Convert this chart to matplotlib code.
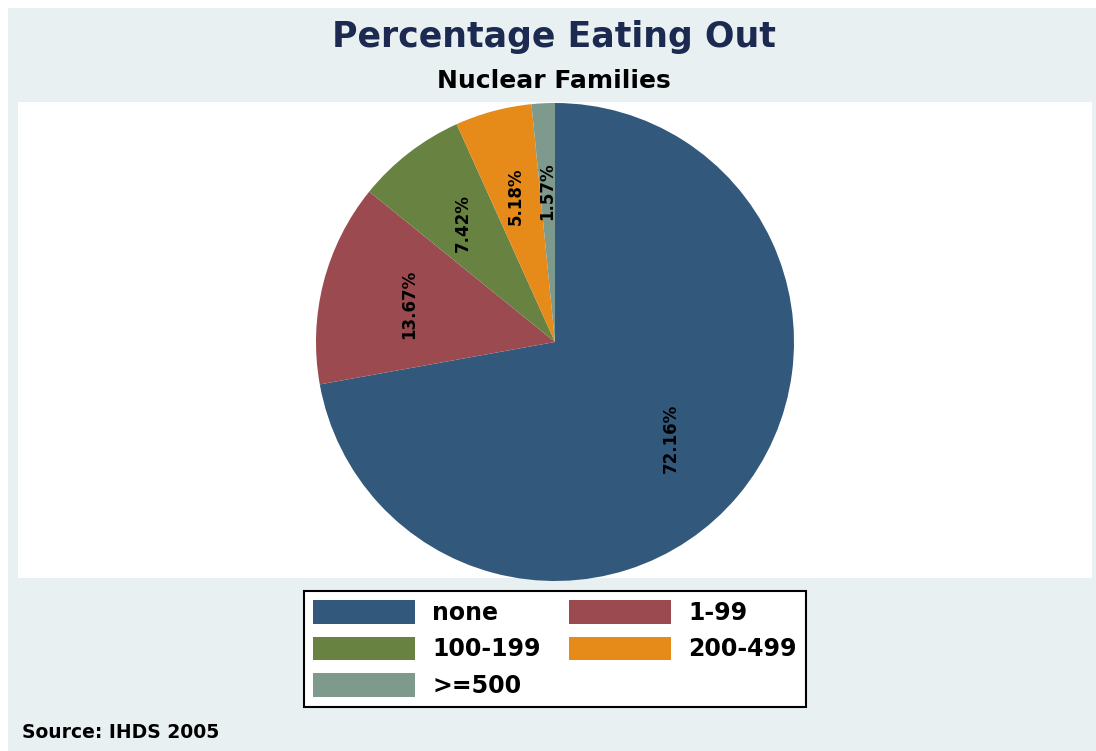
import matplotlib.pyplot as plt
from matplotlib.patches import Rectangle

# data
categories = ["none", "1-99", "100-199", "200-499", ">=500"]
shares = [72.16, 13.67, 7.42, 5.18, 1.57]
colors = ["#32587C", "#9B4A4F", "#678241", "#E68A1A", "#7E9A8C"]

W, H = 1096, 751
fig = plt.figure(figsize=(W / 100, H / 100), dpi=100)
fig.patch.set_facecolor("white")

# light outer background and white plot region (pixel boxes converted to figure coords)
def px_box(x0, y0, x1, y1):
    return (x0 / W, 1 - y1 / H), (x1 - x0) / W, (y1 - y0) / H

(bx, by), bw, bh = px_box(8, 8, W, H)
fig.patches.append(Rectangle((bx, by), bw, bh, transform=fig.transFigure,
                             facecolor="#E8F0F2", edgecolor="none", zorder=-2))
(px, py), pw, ph = px_box(18, 102, 1092, 578)
fig.patches.append(Rectangle((px, py), pw, ph, transform=fig.transFigure,
                             facecolor="white", edgecolor="none", zorder=-1))

# pie axes, square, centred on the pie
cx, cy, r = 555, 342, 239
ax = fig.add_axes([(cx - r) / W, 1 - (cy + r) / H, 2 * r / W, 2 * r / H])

wedges, texts, autotexts = ax.pie(
    shares, colors=colors, startangle=90, counterclock=False,
    radius=1.0, autopct="%.2f%%", pctdistance=0.63,
    wedgeprops=dict(linewidth=0),
    textprops=dict(fontsize=12, fontweight="bold", color="black"),
)
for t in autotexts:
    t.set_rotation(90)
    t.set_ha("center")
    t.set_va("center")
# pie() pads the limits, so pin them after
ax.set_xlim(-1, 1)
ax.set_ylim(-1, 1)
ax.set_aspect("equal")
ax.axis("off")

fig.text(0.505, 1 - 37 / H, "Percentage Eating Out", ha="center", va="center",
         fontsize=25, fontweight="bold", color="#1C2951")
fig.text(0.505, 1 - 81 / H, "Nuclear Families", ha="center", va="center",
         fontsize=18, fontweight="bold", color="black")
fig.text(22 / W, 1 - 732 / H, "Source: IHDS 2005", ha="left", va="center",
         fontsize=13.5, fontweight="bold", color="black")

# legend, filled row-wise like the original
order = [0, 2, 4, 1, 3]
handles = [Rectangle((0, 0), 1, 1, facecolor=colors[i], edgecolor="none") for i in order]
labels = [categories[i] for i in order]
leg = fig.legend(handles, labels, loc="center", bbox_to_anchor=(555 / W, 1 - 649 / H),
                 ncol=2, prop=dict(weight="bold", size=17),
                 handlelength=4.3, handleheight=1.15, handletextpad=0.75,
                 columnspacing=1.2, labelspacing=0.5, borderpad=0.4,
                 fancybox=False, framealpha=1, edgecolor="black")
leg.get_frame().set_linewidth(1.5)

fig.savefig("out.png", dpi=100)
